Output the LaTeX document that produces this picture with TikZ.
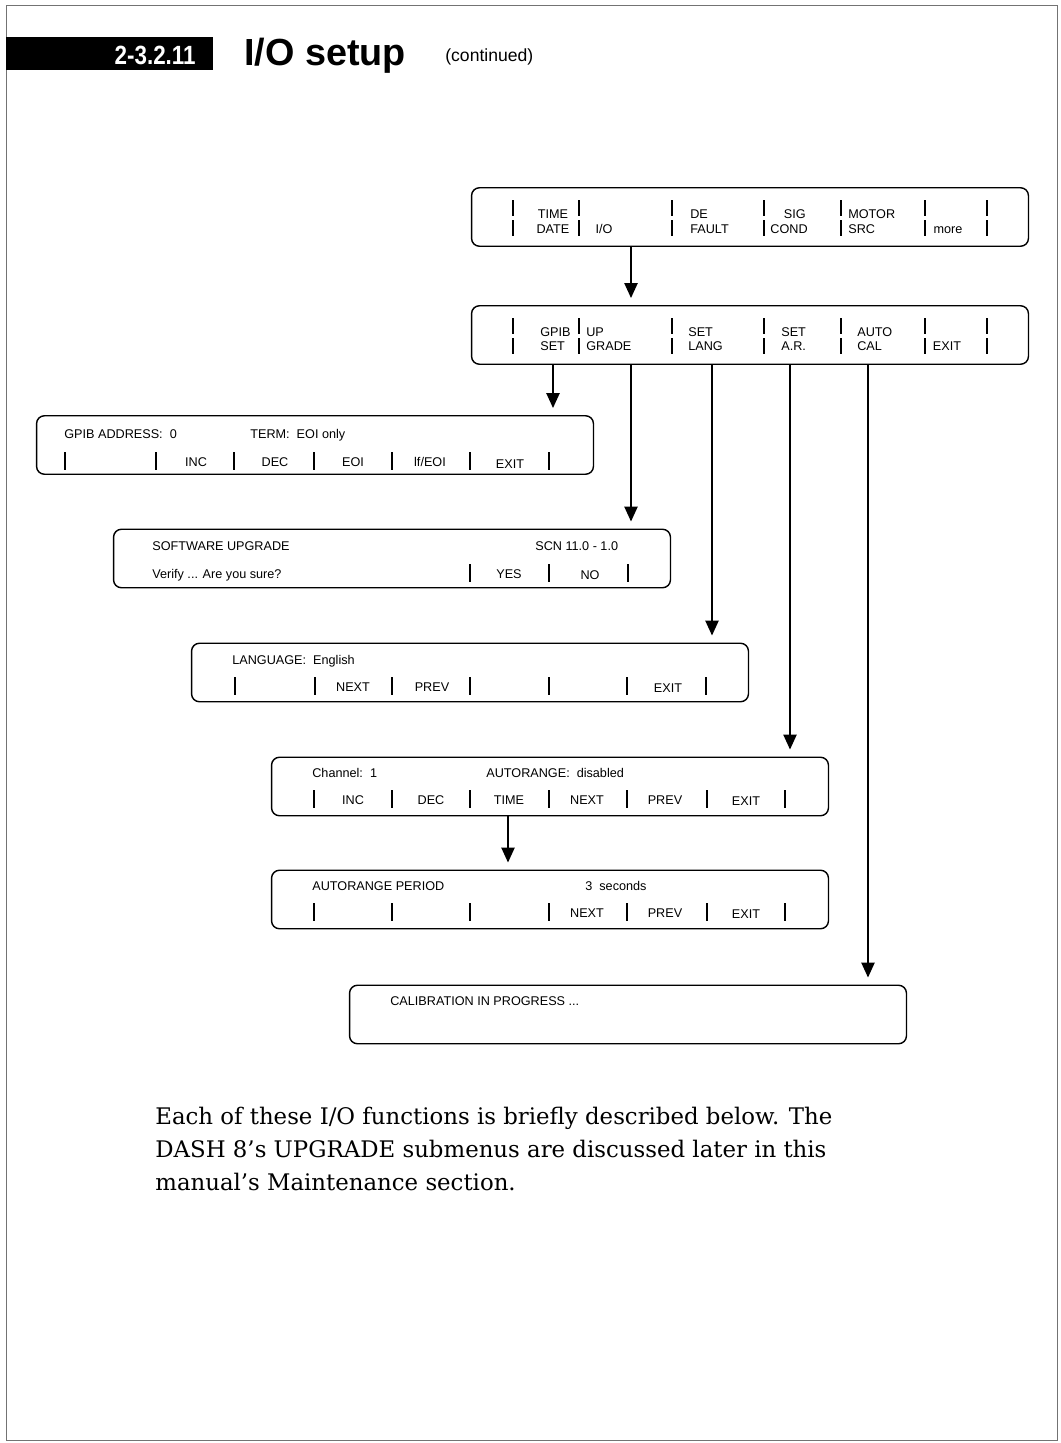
\documentclass[tikz,border=0pt]{standalone}
\usepackage{fontspec}
\setmainfont{DejaVu Serif}
\setsansfont{Liberation Sans}
\usetikzlibrary{arrows.meta}

\begin{document}
\begin{tikzpicture}[x=0.02cm,y=-0.02cm,
  screen/.style={draw,rounded corners=4.5pt,line width=0.8pt,minimum width=11.14cm,minimum height=1.17cm,inner sep=0pt},
  lbl/.style={font=\sffamily\fontsize{7.2}{8}\selectfont,inner sep=0pt},
  bar/.style={line width=1.2pt},
  arr/.style={line width=1pt,-{Triangle[width=7.5pt,length=8.5pt]},shorten >=4pt},
  para/.style={font=\fontsize{13}{15}\selectfont,inner sep=0pt,anchor=base west}]
\useasboundingbox (0,0) rectangle (1061,1443);
\draw[black!55,line width=0.4pt] (6,5) rectangle (1057,1440);

% heading
\node[fill=black,minimum width=4.14cm,minimum height=0.66cm,inner sep=0pt,anchor=north west] (secbar) at (6,37) {};
\node[anchor=base east,text=white,inner sep=0pt,font=\sffamily\bfseries\fontsize{15}{15}\selectfont] (secno) at (196,65) {\scalebox{0.85}[1]{2-3.2.11}};
\node[anchor=base west,inner sep=0pt,font=\sffamily\bfseries\fontsize{21.5}{21.5}\selectfont] (title) at (244,66) {I/O setup};
\node[anchor=base west,inner sep=0pt,font=\sffamily\fontsize{10}{10}\selectfont] (cont) at (445,62) {(continued)};

% screens
\node[screen] (menu1) at (750,217) {};
\node[screen] (menu2) at (750,335) {};
\node[screen] (gpib) at (315,445) {};
\node[screen] (soft) at (392,558.5) {};
\node[screen] (lang) at (470,672.5) {};
\node[screen] (chan) at (550,786.5) {};
\node[screen] (period) at (550,899.5) {};
\node[screen] (cal) at (628,1014.5) {};

% main menu
\foreach \x in {513,579,672,764,841,925,987}
  \draw[bar] (\x,200) -- (\x,216) (\x,220) -- (\x,236);
\node[lbl,anchor=base] (mTime) at (553,218) {TIME};
\node[lbl,anchor=base] (mDate) at (553,233) {DATE};
\node[lbl,anchor=base] (mIO) at (604,233) {I/O};
\node[lbl,anchor=base west] (mDe) at (690,218) {DE};
\node[lbl,anchor=base west] (mFault) at (690,233) {FAULT};
\node[lbl,anchor=base east] (mSig) at (806,218) {SIG};
\node[lbl,anchor=base east] (mCond) at (808,233) {COND};
\node[lbl,anchor=base west] (mMotor) at (848,218) {MOTOR};
\node[lbl,anchor=base west] (mSrc) at (848,233) {SRC};
\node[lbl,anchor=base] (mMore) at (948,233) {more};

% I/O menu
\foreach \x in {513,579,672,764,841,925,987}
  \draw[bar] (\x,318) -- (\x,334) (\x,338) -- (\x,354);
\node[lbl,anchor=base west] (gGpib) at (540,336) {GPIB};
\node[lbl,anchor=base west] (gSet) at (540,350) {SET};
\node[lbl,anchor=base west] (gUp) at (586,336) {UP};
\node[lbl,anchor=base west] (gGrade) at (586,350) {GRADE};
\node[lbl,anchor=base west] (gSetL) at (688,336) {SET};
\node[lbl,anchor=base west] (gLang) at (688,350) {LANG};
\node[lbl,anchor=base west] (gSetA) at (781,336) {SET};
\node[lbl,anchor=base west] (gAR) at (781,350) {A.R.};
\node[lbl,anchor=base west] (gAuto) at (857,336) {AUTO};
\node[lbl,anchor=base west] (gCal) at (857,350) {CAL};
\node[lbl,anchor=base] (gExit) at (947,350) {EXIT};

% GPIB set
\node[lbl,anchor=base west] (gpAddr) at (64,438) {GPIB ADDRESS:\ \ 0};
\node[lbl,anchor=base west] (gpTerm) at (250,438) {TERM:\ \ EOI only};
\foreach \x in {65,156,234,314,392,470,549}
  \draw[bar] (\x,452) -- (\x,470);
\node[lbl,anchor=base] (gpInc) at (196,466) {INC};
\node[lbl,anchor=base] (gpDec) at (275,466) {DEC};
\node[lbl,anchor=base] (gpEoi) at (353,466) {EOI};
\node[lbl,anchor=base] (gpLf) at (430,466) {lf/EOI};
\node[lbl,anchor=base] (gpExit) at (510,468) {EXIT};

% upgrade
\node[lbl,anchor=base west] (swHead) at (152,550) {SOFTWARE UPGRADE};
\node[lbl,anchor=base west] (swScn) at (535,550) {SCN\ 11.0 - 1.0};
\node[lbl,anchor=base west] (swAsk) at (152,578) {Verify ... Are you sure?};
\foreach \x in {470,549,628}
  \draw[bar] (\x,564) -- (\x,582);
\node[lbl,anchor=base] (swYes) at (509,578) {YES};
\node[lbl,anchor=base] (swNo) at (590,579) {NO};

% language
\node[lbl,anchor=base west] (lgHead) at (232,664) {LANGUAGE:\ \ English};
\foreach \x in {235,315,392,470,549,627,706}
  \draw[bar] (\x,677) -- (\x,695);
\node[lbl,anchor=base] (lgNext) at (353,691) {NEXT};
\node[lbl,anchor=base] (lgPrev) at (432,691) {PREV};
\node[lbl,anchor=base] (lgExit) at (668,692) {EXIT};

% autorange
\node[lbl,anchor=base west] (chHead) at (312,777) {Channel:\ \ 1};
\node[lbl,anchor=base west] (chAuto) at (486,777) {AUTORANGE:\ \ disabled};
\foreach \x in {314,392,470,549,627,707,785}
  \draw[bar] (\x,790) -- (\x,808);
\node[lbl,anchor=base] (chInc) at (353,804) {INC};
\node[lbl,anchor=base] (chDec) at (431,804) {DEC};
\node[lbl,anchor=base] (chTime) at (509,804) {TIME};
\node[lbl,anchor=base] (chNext) at (587,804) {NEXT};
\node[lbl,anchor=base] (chPrev) at (665,804) {PREV};
\node[lbl,anchor=base] (chExit) at (746,805) {EXIT};

% autorange period
\node[lbl,anchor=base west] (apHead) at (312,890) {AUTORANGE PERIOD};
\node[lbl,anchor=base west] (apSec) at (585,890) {3\ \ seconds};
\foreach \x in {314,392,470,549,627,707,785}
  \draw[bar] (\x,903) -- (\x,921);
\node[lbl,anchor=base] (apNext) at (587,917) {NEXT};
\node[lbl,anchor=base] (apPrev) at (665,917) {PREV};
\node[lbl,anchor=base] (apExit) at (746,918) {EXIT};

% calibration
\node[lbl,anchor=base west] (clHead) at (390,1005) {CALIBRATION IN PROGRESS ...};

% arrows
\coordinate (cIO) at (631,0);
\coordinate (cGpib) at (553,0);
\coordinate (cLang) at (712,0);
\coordinate (cAR) at (790,0);
\coordinate (cCal) at (868,0);
\coordinate (cTime) at (508,0);
\draw[arr] (cIO |- menu1.south) -- (cIO |- menu2.north);
\draw[arr] (cGpib |- menu2.south) -- (cGpib |- gpib.north);
\draw[arr] (cIO |- menu2.south) -- (cIO |- soft.north);
\draw[arr] (cLang |- menu2.south) -- (cLang |- lang.north);
\draw[arr] (cAR |- menu2.south) -- (cAR |- chan.north);
\draw[arr] (cCal |- menu2.south) -- (cCal |- cal.north);
\draw[arr] (cTime |- chan.south) -- (cTime |- period.north);

% text
\node[para] (p1) at (155,1124) {Each of these I/O functions is briefly described below. The};
\node[para] (p2) at (155,1157) {DASH 8’s UPGRADE submenus are discussed later in this};
\node[para] (p3) at (155,1190) {manual’s Maintenance section.};
\end{tikzpicture}
\end{document}
